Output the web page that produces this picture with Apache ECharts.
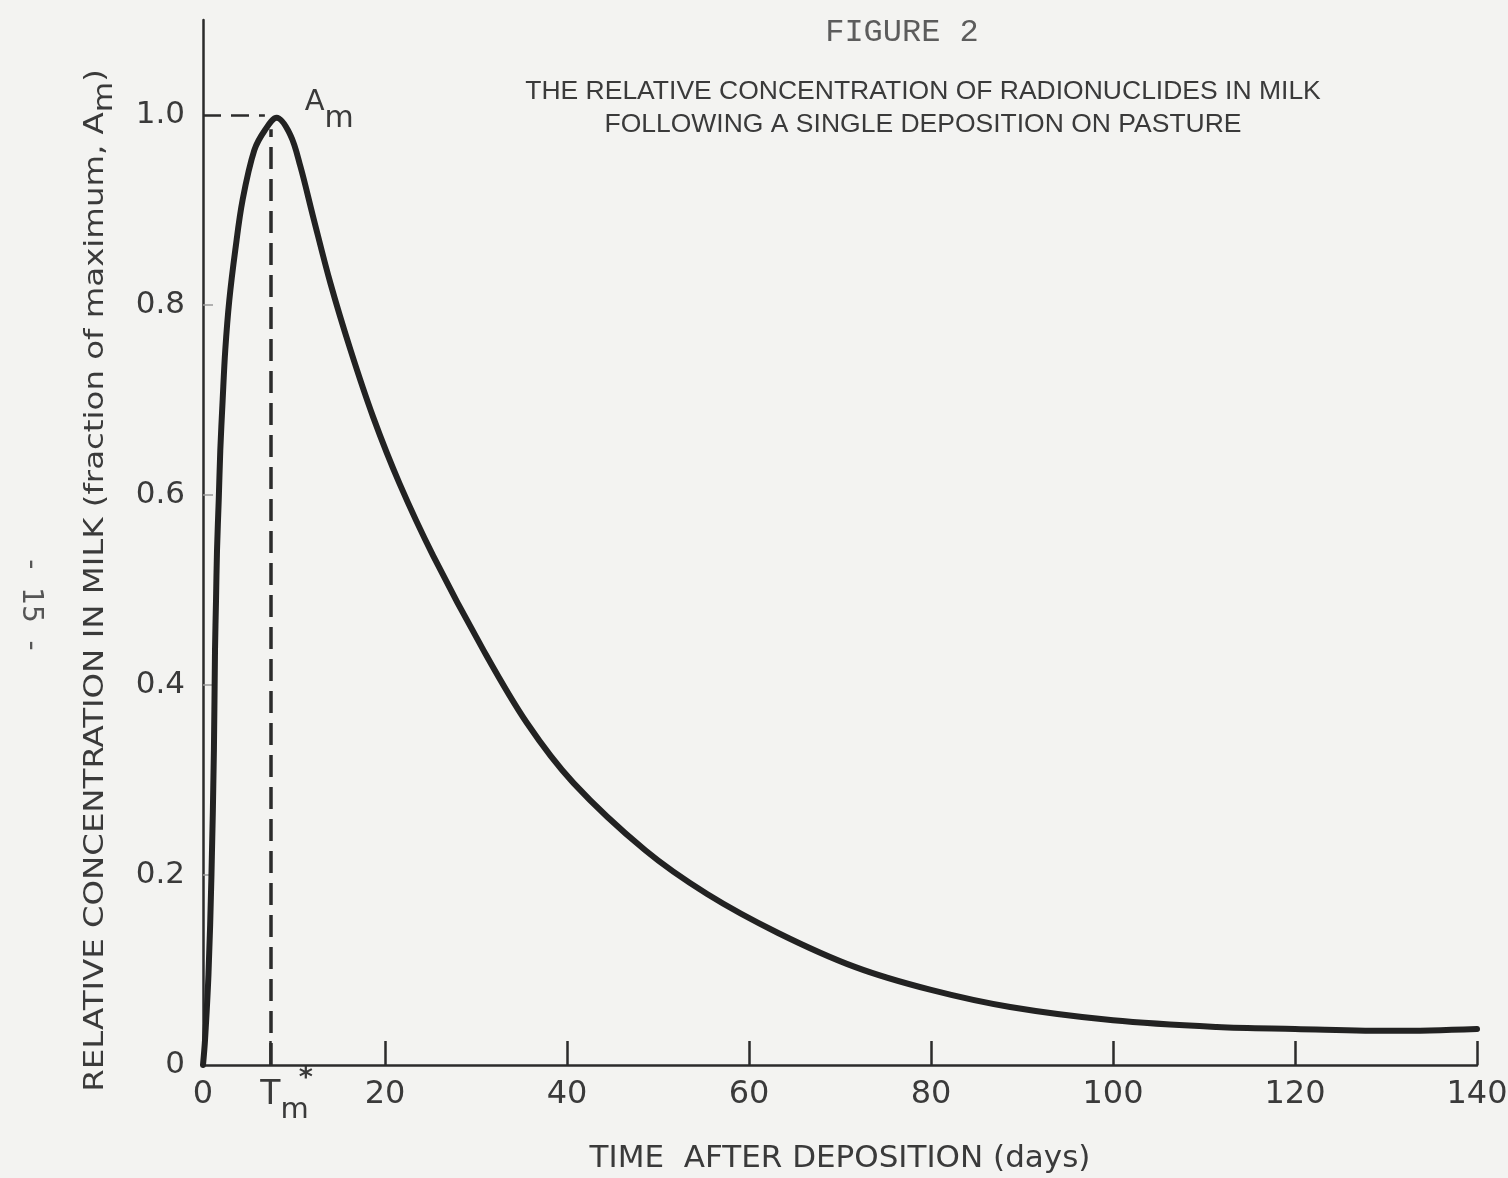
<!DOCTYPE html>
<html>
<head>
<meta charset="utf-8">
<title>Figure 2</title>
<script src="https://cdn.jsdelivr.net/npm/echarts@6/dist/echarts.min.js"></script>
<style>
  html, body { margin: 0; padding: 0; background: #f3f3f1; }
  #chart { width: 1508px; height: 1178px; }
</style>
</head>
<body>
<div id="chart"></div>
<script>
// curve (days after deposition, fraction of maximum)
const days = [0, 0.22, 0.6, 0.93, 1.2, 1.32, 1.43, 1.54, 1.73, 1.9, 2.16, 2.45, 2.89, 3.55, 4.36,
  5.64, 6.8, 8.1, 9.6, 10.7, 12.1, 14, 16.2, 18.7, 21.6, 25.3, 30.8, 35.6, 40.7, 48.6, 55.4,
  63.2, 71.7, 80, 88.7, 100, 111.4, 120, 131, 140];
const relConc = [0, 0.026, 0.095, 0.2, 0.332, 0.437, 0.489, 0.542, 0.595, 0.647, 0.7, 0.753, 0.805, 0.858, 0.911,
  0.963, 0.984, 0.997, 0.979, 0.946, 0.893, 0.823, 0.753, 0.682, 0.612, 0.536, 0.437, 0.36, 0.297, 0.226, 0.18,
  0.139, 0.103, 0.079, 0.061, 0.047, 0.04, 0.038, 0.036, 0.038];

// axis ticks and labels
const xLabelValues = [0, 20, 40, 60, 80, 100, 120, 140];
const xTickValues = [7.4, 20, 40, 60, 80, 100, 120, 140];
const yLabelValues = [0, 0.2, 0.4, 0.6, 0.8, 1.0];
const yTickValues = [0.2, 0.4, 0.6, 0.8];

// annotations
const tmDay = 7.4;     // time of maximum
const tmTop = 0.985;   // where the dashed drop line meets the curve
const amLevel = 1.0;   // A_m
const amEnd = 6.8;     // end of horizontal dashed line
const peakDay = 8.1;

const ink = '#2b2b2b';
const textInk = '#3a3a3a';

const chart = echarts.init(document.getElementById('chart'));

let option = {
  backgroundColor: '#f3f3f1',
  animation: false,
  title: [
    {
      text: 'FIGURE 2',
      left: 897,
      top: 12,
      textAlign: 'center',
      textStyle: { fontFamily: 'Liberation Mono', fontSize: 32, fontWeight: 'normal', color: '#5c5c5c' }
    },
    {
      text: 'THE RELATIVE CONCENTRATION OF RADIONUCLIDES IN MILK\nFOLLOWING A SINGLE DEPOSITION ON PASTURE',
      left: 918,
      top: 70,
      textAlign: 'center',
      textStyle: {
        fontFamily: '"Liberation Sans Narrow", "Liberation Sans"',
        fontSize: 26.5, lineHeight: 33, fontWeight: 'normal', color: textInk
      }
    }
  ],
  grid: { left: 203, right: 31, top: 20, bottom: 113, outerBoundsMode: 'none' },
  xAxis: {
    type: 'value',
    min: 0,
    max: 140,
    interval: 20,
    name: 'TIME  AFTER DEPOSITION (days)',
    nameLocation: 'middle',
    nameGap: 78,
    nameTextStyle: { fontFamily: 'DejaVu Sans', fontSize: 31, color: textInk },
    splitLine: { show: false },
    axisLine: { lineStyle: { color: ink, width: 2.5 } },
    axisTick: {
      inside: true, length: 24, customValues: xTickValues,
      lineStyle: { color: ink, width: 2.5 }
    },
    axisLabel: {
      customValues: xLabelValues,
      margin: 14,
      fontFamily: 'DejaVu Sans',
      fontSize: 32,
      color: textInk
    }
  },
  yAxis: {
    type: 'value',
    min: 0,
    max: 1.1,
    interval: 0.2,
    splitLine: { show: false },
    axisLine: { show: true, lineStyle: { color: ink, width: 2.5 } },
    axisTick: {
      inside: true, length: 10, customValues: yTickValues,
      lineStyle: { color: '#9a9a9a', width: 1.5 }
    },
    axisLabel: {
      customValues: yLabelValues,
      margin: 18,
      fontFamily: 'DejaVu Sans',
      fontSize: 31,
      color: textInk,
      formatter: v => (v === 0 ? '0' : v.toFixed(1))
    }
  },
  series: [
    {
      type: 'line',
      data: days.map((d, i) => [d, relConc[i]]),
      smooth: 0.35,
      showSymbol: false,
      lineStyle: { color: '#222', width: 6, cap: 'round', join: 'round' },
      markLine: {
        silent: true,
        symbol: 'none',
        label: { show: false },
        data: [
          [
            { coord: [tmDay, 0], lineStyle: { type: [22, 10], width: 3.5, color: ink } },
            { coord: [tmDay, tmTop] }
          ],
          [
            { coord: [0, amLevel], lineStyle: { type: [18, 10], width: 2.5, color: ink } },
            { coord: [amEnd, amLevel] }
          ]
        ]
      }
    }
  ]
};

chart.setOption(option);

// text annotations placed from data coordinates
const tmPx = chart.convertToPixel({ gridIndex: 0 }, [tmDay, 0]);
const amPx = chart.convertToPixel({ gridIndex: 0 }, [peakDay, amLevel]);
const gridMid = chart.convertToPixel({ gridIndex: 0 }, [0, 0.51]);

chart.setOption({
  graphic: [
    {
      type: 'text',
      x: tmPx[0] - 10,
      y: tmPx[1] + 30,
      style: {
        text: '{t|T}{m|m}{s|*}',
        align: 'left',
        verticalAlign: 'middle',
        fill: textInk,
        rich: {
          t: { fontFamily: 'DejaVu Sans', fontSize: 33, lineHeight: 60, fill: textInk },
          m: { fontFamily: 'DejaVu Sans', fontSize: 29, verticalAlign: 'bottom', fill: textInk },
          s: { fontFamily: 'DejaVu Sans', fontSize: 27, fontWeight: 'bold', verticalAlign: 'top', padding: [0, 0, 0, -10], fill: textInk }
        }
      }
    },
    {
      type: 'text',
      x: amPx[0] + 28,
      y: amPx[1] - 13,
      style: {
        text: '{a|A}{m|m}',
        align: 'left',
        verticalAlign: 'middle',
        fill: textInk,
        rich: {
          a: { fontFamily: 'DejaVu Sans', fontSize: 29, lineHeight: 64, fill: textInk },
          m: { fontFamily: 'DejaVu Sans', fontSize: 30, verticalAlign: 'bottom', fill: textInk }
        }
      }
    },
    {
      type: 'text',
      x: 96,
      y: gridMid[1],
      rotation: Math.PI / 2,
      scaleX: 1.2,
      style: {
        text: 'RELATIVE CONCENTRATION IN MILK (fraction of maximum, A{m|m})',
        align: 'center',
        verticalAlign: 'middle',
        fontFamily: 'DejaVu Sans',
        fontSize: 27,
        lineHeight: 44,
        fill: textInk,
        rich: {
          m: { fontFamily: 'DejaVu Sans', fontSize: 26, verticalAlign: 'bottom', fill: textInk }
        }
      }
    },
    {
      type: 'text',
      x: 30,
      y: 605,
      rotation: -Math.PI / 2,
      style: {
        text: '-  15  -',
        align: 'center',
        verticalAlign: 'middle',
        fontFamily: 'DejaVu Sans',
        fontSize: 28,
        fill: '#555'
      }
    }
  ]
});
</script>
</body>
</html>
